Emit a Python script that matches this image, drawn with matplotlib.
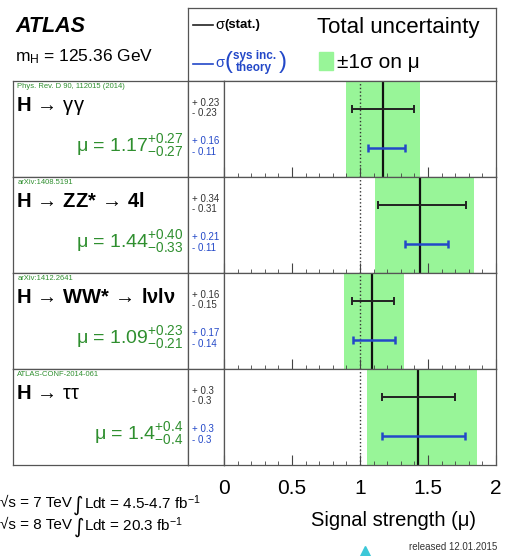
import matplotlib

matplotlib.use("Agg")
import matplotlib.pyplot as plt
from matplotlib.lines import Line2D
from matplotlib.patches import Rectangle
from matplotlib.ticker import MultipleLocator

plt.rcParams["font.family"] = ["Liberation Sans", "DejaVu Sans"]
plt.rcParams["mathtext.fontset"] = "custom"
plt.rcParams["mathtext.rm"] = "Liberation Sans"
plt.rcParams["mathtext.it"] = "Liberation Sans:italic"
plt.rcParams["mathtext.bf"] = "Liberation Sans:bold"
plt.rcParams["mathtext.sf"] = "Liberation Sans"

# ---- data -------------------------------------------------------------
channels = [
    r"H$\,\rightarrow\,$$\mathrm{γγ}$",
    r"H$\,\rightarrow\,$ZZ*$\,\rightarrow\,$4l",
    r"H$\,\rightarrow\,$WW*$\,\rightarrow\,$lνlν",
    r"H$\,\rightarrow\,$$\mathrm{ττ}$",
]
refs = ["Phys. Rev. D 90, 112015 (2014)", "arXiv:1408.5191", "arXiv:1412.2641", "ATLAS-CONF-2014-061"]

# values as drawn
mu = [1.17, 1.44, 1.09, 1.43]
tot_up = [0.27, 0.40, 0.23, 0.43]
tot_dn = [0.27, 0.33, 0.21, 0.38]
stat_up = [0.23, 0.34, 0.16, 0.27]
stat_dn = [0.23, 0.31, 0.15, 0.27]
sys_up = [0.16, 0.21, 0.17, 0.34]
sys_dn = [0.11, 0.11, 0.14, 0.27]

# values as printed
mu_txt = ["1.17", "1.44", "1.09", "1.4"]
tot_up_txt = ["0.27", "0.40", "0.23", "0.4"]
tot_dn_txt = ["0.27", "0.33", "0.21", "0.4"]
stat_up_txt = ["0.23", "0.34", "0.16", "0.3"]
stat_dn_txt = ["0.23", "0.31", "0.15", "0.3"]
sys_up_txt = ["0.16", "0.21", "0.17", "0.3"]
sys_dn_txt = ["0.11", "0.11", "0.14", "0.3"]

tick_vals = [0, 0.5, 1, 1.5, 2]
tick_labels = ["0", "0.5", "1", "1.5", "2"]

lumi_lines = [("√s = 7 TeV", r"Ldt = 4.5-4.7 fb$^{-1}$"), ("√s = 8 TeV", r"Ldt = 20.3 fb$^{-1}$")]

GREEN = "#98f598"
TXT_GREEN = "#2f8f2f"
BLUE = "#2348c8"
BOX = "#555555"

W, H = 506, 556
fig = plt.figure(figsize=(W / 100, H / 100), dpi=100)
renderer = fig.canvas.get_renderer()


def px_axes(x0, y0, x1, y1):
    a = fig.add_axes([x0 / W, 1 - y1 / H, (x1 - x0) / W, (y1 - y0) / H])
    for s in a.spines.values():
        s.set_color(BOX)
        s.set_linewidth(0.9)
    return a


def ftext(x, y, s, **kw):
    return fig.text(x / W, 1 - y / H, s, **kw)


def right_of(t, gap=0):
    return t.get_window_extent(renderer).x1 + gap


# ---- header -----------------------------------------------------------
ftext(15, 26, "ATLAS", fontsize=15.5, fontweight="bold", fontstyle="italic", va="center")
ftext(15, 57, r"m$_\mathrm{H}$ = 125.36 GeV", fontsize=12.5, va="center")

hdr = px_axes(188, 8, 496, 81)
hdr.set_xticks([])
hdr.set_yticks([])

fig.add_artist(Line2D([193 / W, 213 / W], [1 - 25 / H] * 2, color="#222222", lw=1.2))
t = ftext(215, 25, "σ", fontsize=10.5, va="center")
ftext(right_of(t, 0.5), 25, "(stat.)", fontsize=9.5, fontweight="bold", va="center")

fig.add_artist(Line2D([193 / W, 213 / W], [1 - 64 / H] * 2, color=BLUE, lw=1.2))
t = ftext(215, 63, "σ", fontsize=10.5, va="center", color=BLUE)
t = ftext(right_of(t, 0.5), 62, "(", fontsize=17, va="center", color=BLUE)
x0 = right_of(t, 1)
t1 = ftext(x0, 56.5, "sys inc.", fontsize=8.5, fontweight="bold", va="center", color=BLUE)
t2 = ftext(x0 + 2, 68, "theory", fontsize=8.5, fontweight="bold", va="center", color=BLUE)
ftext(max(right_of(t1), right_of(t2)) + 2, 62, ")", fontsize=17, va="center", color=BLUE)

ftext(317, 28, "Total uncertainty", fontsize=16, va="center")
fig.add_artist(Rectangle((319 / W, 1 - 70 / H), 14 / W, 18 / H, color=GREEN, transform=fig.transFigure))
ftext(337, 62, "±1σ on μ", fontsize=15, va="center")

# ---- panels -----------------------------------------------------------
tops = [81, 177, 273, 369]
ph = 96
for i, top in enumerate(tops):
    lab = px_axes(13, top, 188, top + ph)
    lab.set_xticks([])
    lab.set_yticks([])
    lab.text(0.025, 0.94, refs[i], transform=lab.transAxes, fontsize=5.5, color=TXT_GREEN, va="center")
    lab.text(0.015, 0.74, channels[i], transform=lab.transAxes, fontsize=14.5, fontweight="bold", va="center")
    lab.text(
        0.975, 0.33,
        f"μ = ${mu_txt[i]}^{{+{tot_up_txt[i]}}}_{{-{tot_dn_txt[i]}}}$",
        transform=lab.transAxes, fontsize=14, color=TXT_GREEN, ha="right", va="center",
    )

    num = px_axes(188, top, 224, top + ph)
    num.set_xticks([])
    num.set_yticks([])
    num.text(0.1, 0.77, f"+ {stat_up_txt[i]}", transform=num.transAxes, fontsize=7, color="#333333", va="center")
    num.text(0.1, 0.665, f"- {stat_dn_txt[i]}", transform=num.transAxes, fontsize=7, color="#333333", va="center")
    num.text(0.1, 0.375, f"+ {sys_up_txt[i]}", transform=num.transAxes, fontsize=7, color=BLUE, va="center")
    num.text(0.1, 0.265, f"- {sys_dn_txt[i]}", transform=num.transAxes, fontsize=7, color=BLUE, va="center")

    ax = px_axes(224, top, 496, top + ph)
    ax.set_xlim(0, 2)
    ax.set_ylim(0, 1)
    ax.set_yticks([])
    ax.axvspan(mu[i] - tot_dn[i], mu[i] + tot_up[i], color=GREEN, lw=0, zorder=0)
    ax.axvline(1, color="#333333", ls=":", lw=1, zorder=1)
    ax.axvline(mu[i], color="#111111", lw=1.6, zorder=2)
    ax.errorbar(mu[i], 0.71, xerr=[[stat_dn[i]], [stat_up[i]]], fmt="none",
                ecolor="#222222", elinewidth=1.4, capsize=3, capthick=1.4, zorder=3)
    ax.errorbar(mu[i], 0.30, xerr=[[sys_dn[i]], [sys_up[i]]], fmt="none",
                ecolor=BLUE, elinewidth=1.8, capsize=3, capthick=1.8, zorder=3)
    ax.set_xticks(tick_vals)
    ax.xaxis.set_minor_locator(MultipleLocator(0.1))
    ax.tick_params(which="major", direction="in", length=7, width=0.8, color="#444444")
    ax.tick_params(which="minor", direction="in", length=3, width=0.6, color="#444444")
    if i == len(tops) - 1:
        ax.set_xticklabels(tick_labels, fontsize=15)
        ax.tick_params(which="major", pad=10)
    else:
        ax.tick_params(labelbottom=False)

# ---- footer -----------------------------------------------------------
for (left, right), y in zip(lumi_lines, [503, 525]):
    t = ftext(0, y, left, fontsize=11, va="center")
    t = ftext(right_of(t, 1.5), y + 2, "∫", fontsize=14.5, va="center", family="DejaVu Sans")
    ftext(right_of(t, 0), y, right, fontsize=11, va="center")

ftext(394, 520, "Signal strength (μ)", fontsize=14.5, ha="center", va="center")
ftext(497, 547, "released 12.01.2015", fontsize=7, ha="right", va="center", color="#333333")
fig.add_artist(Line2D([365 / W], [1 - 551 / H], marker="^", ms=7, color="#3cc8d8", lw=0))

fig.savefig("out.png", dpi=100)
